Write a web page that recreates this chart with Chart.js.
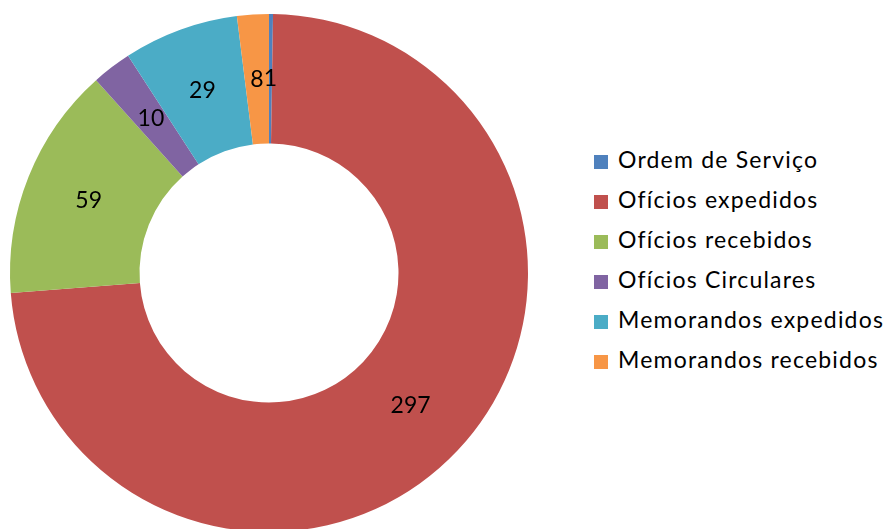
<!DOCTYPE html>
<html>
<head>
<meta charset="utf-8">
<script src="https://cdn.jsdelivr.net/npm/chart.js@4.4.0/dist/chart.umd.min.js"></script>
<style>
  html, body { margin: 0; padding: 0; background: #fff; overflow: hidden; }
  #wrap { position: relative; width: 891px; height: 529px; overflow: hidden; }
  #box { position: absolute; left: 0; top: 0; width: 538px; height: 535px; }
  #legend { position: absolute; left: 594px; top: 139px; font-family: Lato, sans-serif; font-size: 23px; letter-spacing: 1.2px; color: #000; }
  #legend div { height: 40px; line-height: 40px; white-space: nowrap; }
  #legend span { display: inline-block; width: 14px; height: 14px; margin-right: 10px; vertical-align: -1px; }
</style>
</head>
<body>
<div id="wrap">
  <div id="box"><canvas id="docChart"></canvas></div>
  <div id="legend"></div>
</div>
<script>
// document counts
const categories = ['Ordem de Serviço', 'Ofícios expedidos', 'Ofícios recebidos', 'Ofícios Circulares', 'Memorandos expedidos', 'Memorandos recebidos'];
const counts = [1, 297, 59, 10, 29, 8];
const colors = ['#4F81BD', '#C0504D', '#9BBB59', '#8064A2', '#4BACC6', '#F79646'];

// value labels in the middle of each slice
const sliceLabels = {
    id: 'sliceLabels',
    afterDatasetsDraw(chart) {
        const ctx = chart.ctx;
        const meta = chart.getDatasetMeta(0);
        ctx.save();
        ctx.font = '23px Lato, sans-serif';
        ctx.fillStyle = '#000';
        ctx.textAlign = 'center';
        ctx.textBaseline = 'middle';
        meta.data.forEach((arc, i) => {
            const pos = arc.tooltipPosition();
            ctx.fillText(String(chart.data.datasets[0].data[i]), pos.x, pos.y);
        });
        ctx.restore();
    }
};

const ctx = document.getElementById('docChart').getContext('2d');
new Chart(ctx, {
    type: 'doughnut',
    data: {
        labels: categories,
        datasets: [{
            data: counts,
            backgroundColor: colors,
            borderWidth: 0
        }]
    },
    options: {
        responsive: true,
        maintainAspectRatio: false,
        animation: false,
        cutout: '50%',
        layout: { padding: { top: 14, bottom: 3, left: 10, right: 10 } },
        plugins: {
            legend: { display: false },
            tooltip: { enabled: false }
        }
    },
    plugins: [sliceLabels]
});

// legend on the right
const legend = document.getElementById('legend');
categories.forEach((name, i) => {
    const row = document.createElement('div');
    const sw = document.createElement('span');
    sw.style.background = colors[i];
    row.appendChild(sw);
    row.appendChild(document.createTextNode(name));
    legend.appendChild(row);
});
</script>
</body>
</html>
